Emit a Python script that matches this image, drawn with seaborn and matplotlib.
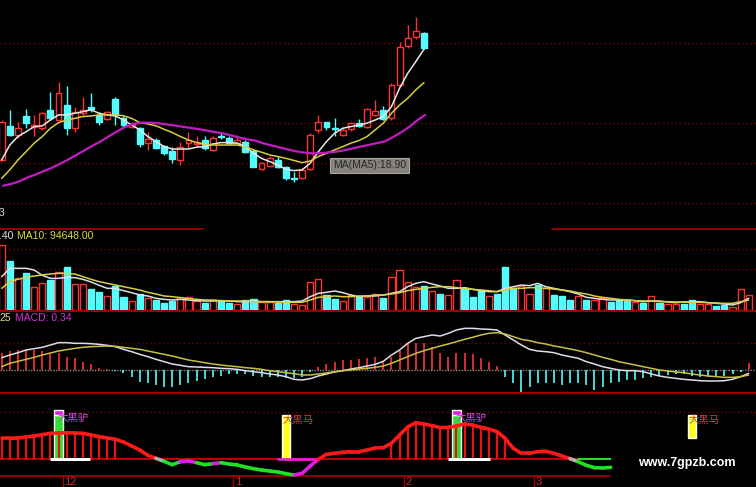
import numpy as np
import matplotlib
matplotlib.use("Agg")
import matplotlib.pyplot as plt
from matplotlib.collections import LineCollection
import seaborn as sns

# ------------------------------------------------------------
# data
# ------------------------------------------------------------
opens = [19.00, 20.28, 19.94, 20.66, 20.25, 20.19, 20.88, 20.50, 21.06, 20.19,
         20.75, 20.97, 20.69, 20.53, 21.28, 20.56, 20.23, 20.19, 19.63, 19.75,
         19.53, 19.35, 19.00, 19.63, 19.60, 19.73, 19.38, 19.89, 19.81, 19.63,
         19.69, 19.35, 18.66, 18.79, 19.00, 18.73, 18.32, 18.31, 18.65, 20.13,
         20.41, 20.19, 19.94, 20.15, 20.38, 20.25, 20.69, 20.88, 20.56, 21.81,
         23.28, 23.63, 23.78]
closes = [20.44, 19.94, 20.19, 20.40, 20.31, 20.75, 20.56, 21.50, 20.19, 20.81,
          20.88, 20.91, 20.44, 20.81, 20.69, 20.31, 20.35, 19.60, 19.78, 19.44,
          19.25, 19.03, 19.50, 19.75, 19.69, 19.44, 19.81, 19.87, 19.63, 19.75,
          19.31, 18.75, 18.88, 19.06, 18.75, 18.31, 18.30, 18.63, 19.94, 20.44,
          20.25, 20.15, 20.13, 20.38, 20.28, 20.90, 20.85, 20.53, 21.81, 23.25,
          23.56, 23.84, 23.19]
highs = [20.50, 20.88, 20.44, 20.90, 20.69, 20.81, 21.56, 21.94, 21.78, 21.00,
         21.38, 21.53, 20.81, 20.85, 21.38, 20.63, 20.44, 20.25, 20.06, 19.81,
         19.56, 19.50, 19.69, 20.06, 19.88, 19.88, 19.88, 20.06, 19.88, 19.94,
         19.75, 19.40, 18.94, 19.13, 19.13, 18.78, 18.56, 18.69, 20.00, 20.69,
         20.44, 20.56, 20.19, 20.44, 20.53, 20.94, 21.25, 21.03, 21.88, 23.44,
         24.06, 24.38, 23.81]
lows = [18.95, 19.88, 19.81, 20.19, 19.88, 20.13, 20.50, 20.48, 19.94, 20.06,
        20.69, 20.81, 20.31, 20.48, 20.31, 20.19, 20.19, 19.50, 19.38, 19.40,
        19.19, 18.88, 18.81, 19.44, 19.50, 19.38, 19.35, 19.78, 19.60, 19.59,
        19.25, 18.73, 18.63, 18.75, 18.69, 18.25, 18.19, 18.29, 18.63, 20.00,
        20.13, 19.88, 19.88, 20.10, 20.23, 20.19, 20.63, 20.48, 20.50, 21.75,
        23.19, 23.53, 23.15]

ma5 = [19.00, 19.56, 19.88, 20.06, 20.25, 20.28, 20.50, 20.69, 20.69, 20.75,
       20.81, 20.88, 20.75, 20.69, 20.65, 20.50, 20.31, 20.13, 19.88, 19.69,
       19.50, 19.41, 19.41, 19.41, 19.48, 19.50, 19.60, 19.65, 19.65, 19.63,
       19.50, 19.25, 19.06, 18.94, 18.81, 18.65, 18.60, 18.63, 18.88, 19.31,
       19.69, 20.00, 20.19, 20.25, 20.31, 20.38, 20.50, 20.63, 21.00, 21.69,
       22.25, 22.69, 23.15]
ma10 = [18.31, 18.63, 19.00, 19.31, 19.63, 19.88, 20.19, 20.40, 20.50, 20.56,
        20.63, 20.65, 20.69, 20.69, 20.69, 20.66, 20.56, 20.40, 20.35, 20.28,
        20.15, 20.03, 19.88, 19.75, 19.65, 19.59, 19.56, 19.56, 19.56, 19.56,
        19.50, 19.38, 19.29, 19.19, 19.13, 19.06, 18.98, 18.90, 18.96, 19.13,
        19.25, 19.38, 19.50, 19.63, 19.73, 19.88, 20.13, 20.38, 20.75, 21.06,
        21.31, 21.63, 21.90]
ma20 = [18.03, 18.10, 18.19, 18.34, 18.45, 18.58, 18.70, 18.85, 19.01, 19.18,
        19.35, 19.53, 19.69, 19.88, 20.06, 20.23, 20.35, 20.40, 20.40, 20.38,
        20.34, 20.30, 20.25, 20.21, 20.16, 20.11, 20.05, 20.00, 19.93, 19.85,
        19.78, 19.73, 19.63, 19.55, 19.48, 19.40, 19.33, 19.28, 19.25, 19.25,
        19.28, 19.31, 19.36, 19.43, 19.50, 19.56, 19.63, 19.69, 19.85, 20.03,
        20.23, 20.48, 20.69]

# volume (thousand lots), 1 = up day
volume = [390, 296, 190, 220, 140, 160, 180, 230, 260, 156,
          156, 124, 110, 84, 146, 76, 54, 96, 70, 60,
          44, 56, 76, 76, 54, 40, 60, 54, 40, 36,
          60, 66, 50, 50, 44, 60, 36, 30, 166, 184,
          90, 64, 54, 90, 76, 76, 96, 70, 196, 240,
          170, 140, 144, 114, 96, 90, 180, 130, 76, 120,
          84, 96, 260, 134, 144, 96, 150, 130, 90, 84,
          60, 84, 60, 60, 70, 50, 60, 54, 50, 44,
          84, 44, 36, 36, 36, 60, 36, 36, 24, 30,
          20, 124, 90]
vol_up = [1, 0, 1, 0, 1, 1, 0, 1, 0, 1, 1, 0, 0, 1, 0, 0, 1, 0, 1, 0,
          0, 0, 1, 1, 1, 0, 1, 0, 0, 1, 0, 0, 1, 1, 0, 0, 1, 1, 1, 1,
          0, 0, 1, 1, 0, 1, 1, 0, 1, 1, 1, 1, 0, 1, 0, 1, 1, 0, 0, 0,
          1, 0, 0, 0, 1, 1, 0, 1, 0, 0, 0, 1, 0, 1, 1, 0, 0, 0, 1, 0,
          1, 0, 1, 1, 0, 0, 1, 1, 0, 0, 1, 1, 1]
vol_ma5 = [200, 250, 250, 250, 240, 208, 190, 190, 196, 194,
           184, 168, 148, 130, 130, 116, 104, 90, 84, 70,
           64, 60, 64, 60, 56, 54, 54, 56, 54, 50,
           50, 54, 50, 50, 50, 50, 50, 54, 80, 100,
           106, 114, 104, 90, 80, 84, 84, 90, 100, 110,
           140, 160, 170, 156, 144, 130, 130, 134, 124, 116,
           110, 110, 130, 140, 150, 146, 160, 140, 130, 120,
           110, 96, 76, 70, 64, 60, 60, 60, 56, 50,
           54, 54, 48, 44, 48, 50, 50, 44, 40, 36,
           30, 44, 70]
vol_ma10 = [130, 170, 184, 196, 204, 210, 216, 220, 220, 216,
            200, 184, 170, 160, 150, 140, 130, 120, 106, 96,
            84, 80, 74, 68, 64, 60, 60, 56, 54, 54,
            54, 50, 50, 50, 48, 46, 46, 46, 60, 76,
            80, 84, 80, 80, 84, 84, 90, 90, 96, 104,
            116, 124, 130, 136, 140, 140, 134, 130, 124, 120,
            116, 110, 120, 130, 130, 134, 134, 130, 126, 120,
            114, 104, 96, 84, 76, 70, 64, 60, 56, 54,
            54, 50, 50, 48, 48, 46, 46, 44, 42, 40,
            40, 50, 60]

# MACD
dif = [0.37, 0.45, 0.52, 0.60, 0.64, 0.68, 0.75, 0.82, 0.82, 0.80,
       0.80, 0.79, 0.77, 0.74, 0.70, 0.62, 0.55, 0.47, 0.40, 0.32,
       0.25, 0.18, 0.14, 0.10, 0.09, 0.08, 0.07, 0.05, 0.04, 0.02,
       -0.02, -0.05, -0.08, -0.12, -0.15, -0.20, -0.28, -0.30, -0.26, -0.18,
       -0.12, -0.06, -0.02, 0.03, 0.07, 0.12, 0.17, 0.26, 0.45, 0.60,
       0.80, 0.95, 1.00, 1.05, 1.02, 1.10, 1.20, 1.25, 1.25, 1.23,
       1.22, 1.20, 1.05, 0.90, 0.75, 0.62, 0.57, 0.55, 0.52, 0.45,
       0.40, 0.35, 0.25, 0.18, 0.10, 0.05, 0.00, -0.02, -0.02, -0.05,
       -0.12, -0.18, -0.22, -0.25, -0.28, -0.30, -0.32, -0.33, -0.33, -0.32,
       -0.28, -0.20, -0.10]
dea = [0.10, 0.20, 0.26, 0.32, 0.38, 0.45, 0.51, 0.57, 0.61, 0.65,
       0.68, 0.70, 0.71, 0.72, 0.71, 0.68, 0.65, 0.62, 0.57, 0.52,
       0.47, 0.42, 0.36, 0.30, 0.26, 0.22, 0.18, 0.15, 0.12, 0.10,
       0.07, 0.05, 0.02, -0.02, -0.05, -0.08, -0.11, -0.15, -0.15, -0.12,
       -0.09, -0.05, -0.02, 0.00, 0.03, 0.05, 0.08, 0.12, 0.20, 0.30,
       0.40, 0.50, 0.58, 0.65, 0.72, 0.78, 0.85, 0.92, 0.98, 1.05,
       1.10, 1.12, 1.08, 1.00, 0.92, 0.88, 0.82, 0.78, 0.72, 0.68,
       0.63, 0.58, 0.52, 0.45, 0.38, 0.32, 0.25, 0.20, 0.15, 0.10,
       0.05, 0.00, -0.03, -0.06, -0.08, -0.12, -0.15, -0.18, -0.20, -0.22,
       -0.22, -0.20, -0.15]
macd_hist = [0.52, 0.58, 0.60, 0.60, 0.60, 0.57, 0.52, 0.50, 0.40, 0.35,
             0.25, 0.18, 0.05, 0.02, -0.02, -0.10, -0.20, -0.35, -0.40, -0.45,
             -0.50, -0.50, -0.45, -0.40, -0.32, -0.28, -0.22, -0.18, -0.12, -0.12,
             -0.12, -0.18, -0.22, -0.20, -0.22, -0.25, -0.25, -0.20, -0.05, 0.10,
             0.18, 0.25, 0.30, 0.30, 0.32, 0.35, 0.38, 0.25, 0.40, 0.58,
             0.78, 0.82, 0.80, 0.68, 0.52, 0.40, 0.50, 0.52, 0.47, 0.35,
             0.25, 0.12, -0.22, -0.40, -0.65, -0.50, -0.40, -0.40, -0.40, -0.45,
             -0.40, -0.40, -0.45, -0.60, -0.50, -0.40, -0.35, -0.30, -0.30, -0.25,
             -0.22, -0.18, -0.15, -0.13, -0.12, -0.18, -0.20, -0.22, -0.20, -0.18,
             -0.12, -0.05, 0.20]

# signal indicator (bottom panel)
signal = [31.5, 31.5, 32, 33.5, 35, 37, 39, 39.5, 40, 39.5,
          39, 36.5, 34, 32, 30, 26, 20, 14, 6, 1.5,
          -3, -8, -3.5, -2.5, -5, -8, -6.5, -5, -7, -8.5,
          -11.5, -14, -16, -17.5, -19, -21.5, -23.5, -21, -10, 0,
          7.5, 9, 10.5, 11.5, 11.5, 14, 17, 17.5, 24, 36.5,
          48.5, 55, 53, 50.5, 47.5, 48, 50, 53, 51.5, 48,
          45.5, 41.5, 31.5, 16.5, 9, 9, 11.5, 12, 9, 5,
          1, -3.5, -9, -12.5, -13, -12]
hatch_ranges = [(0, 14), (48, 62)]
magenta_segments = [22, 23, 26, 36, 37, 38]
gray_segments = [19, 70]

donkey_idx = [7, 56]          # 大黑驴
donkey_top = [74, 74]
horse_idx = [35, 85]          # 大黑马
horse_bottom = [0, 32]
horse_top = [66.5, 66.5]

month_labels = ["12", "1", "2", "3"]
month_pos = [8, 29, 50, 66]   # bar index where month starts

# ------------------------------------------------------------
# figure
# ------------------------------------------------------------
sns.set_style("dark")
plt.rcParams['font.family'] = ['Liberation Sans', 'Noto Sans CJK SC', 'DejaVu Sans']

W, H = 756, 487
fig = plt.figure(figsize=(W / 100, H / 100), dpi=100, facecolor="black")

RED = "#ff3232"
CYAN = "#54fcfc"
DRED = "#a00000"
DOT = "#7a0000"

# pixel helper axes for frame lines
bg = fig.add_axes([0, 0, 1, 1])
bg.set_xlim(0, W)
bg.set_ylim(H, 0)
bg.axis("off")
bg.set_facecolor("black")

for yy in [43, 123, 163, 203, 249, 269, 343, 412]:
    bg.plot([0, W], [yy, yy], color=DOT, lw=1, ls=(0, (1, 2)))
bg.plot([0, 203], [229, 229], color=DRED, lw=1.3)
bg.plot([552, W], [229, 229], color=DRED, lw=1.3)
bg.plot([0, W], [310.5, 310.5], color=DRED, lw=1.3)
bg.plot([0, W], [393, 393], color=DRED, lw=1.6)
bg.plot([0, W], [370, 370], color="#8a8a8a", lw=1, ls=(0, (1, 1)))
bg.plot([0, 610], [476, 476], color=DRED, lw=1.3)

XL = (-1.7 / 8.12, (W - 1.7) / 8.12)


def panel(y0, y1):
    ax = fig.add_axes([0, 1 - y1 / H, 1, (y1 - y0) / H])
    ax.set_facecolor("none")
    ax.set_xlim(*XL)
    ax.axis("off")
    return ax


# ---------------- price panel ----------------
ax1 = panel(0, 229)
ax1.set_ylim(16.41, 25)
n = len(opens)
xi = np.arange(n)
up = np.array(closes) >= np.array(opens)
ccol = [RED if u else CYAN for u in up]
ax1.vlines(xi, lows, highs, colors=ccol, lw=1, zorder=2)
bottoms = np.minimum(opens, closes)
heights = np.maximum(np.abs(np.array(closes) - np.array(opens)), 0.02)
ax1.bar(xi, heights, bottom=bottoms, width=0.72,
        facecolor=["black" if u else CYAN for u in up],
        edgecolor=ccol, lw=1, zorder=3)
sns.lineplot(x=xi, y=ma5, ax=ax1, color="#e8e8e8", lw=1.1, zorder=4, legend=False)
sns.lineplot(x=xi, y=ma10, ax=ax1, color="#d8cc40", lw=1.1, zorder=4, legend=False)
sns.lineplot(x=np.arange(len(ma20)) + 0.15, y=ma20, ax=ax1, color="#c21cc2", lw=1.6,
             zorder=4, legend=False)
ax1.axis("off")

# ---------------- volume panel ----------------
ax2 = panel(229, 310)
ax2.set_ylim(0, 486)
vx = np.arange(len(volume))
vcol = [RED if u else CYAN for u in vol_up]
ax2.bar(vx, volume, width=0.76, facecolor=["black" if u else CYAN for u in vol_up],
        edgecolor=vcol, lw=1)
sns.lineplot(x=vx, y=vol_ma5, ax=ax2, color="#e0e0e0", lw=1.1, legend=False)
sns.lineplot(x=vx, y=vol_ma10, ax=ax2, color="#d8d040", lw=1.1, legend=False)
ax2.axis("off")

# ---------------- MACD panel ----------------
ax3 = panel(310, 393)
ax3.set_ylim(-0.69, 1.8)
mx = np.arange(len(macd_hist))
ax3.vlines(mx, 0, macd_hist, colors=[RED if v > 0 else CYAN for v in macd_hist], lw=1.2)
sns.lineplot(x=mx, y=dif, ax=ax3, color="#dcdcec", lw=1.1, legend=False)
sns.lineplot(x=mx, y=dea, ax=ax3, color="#c8c040", lw=1.1, legend=False)
ax3.axis("off")

# ---------------- signal panel ----------------
ax4 = panel(393, 487)
ax4.set_ylim(-41.5, 99.5)
sx = np.arange(len(signal))
ax4.hlines(0, XL[0], 71, color="#d00000", lw=1.3)
ax4.hlines(0, 71, 75, color="#20e020", lw=1.5)
ax4.hlines(0, 33.9, 39.0, color="#e020e0", lw=2, zorder=3)
ax4.hlines(0, 5.9, 10.9, color="white", lw=2.2, zorder=5)
ax4.hlines(0, 55.0, 60.1, color="white", lw=2.2, zorder=5)

# signal boxes
for i, top in zip(donkey_idx, donkey_top):
    ax4.bar(i, top - 7.5, width=1.2, color="#30e030", zorder=2)
    ax4.bar(i, 7.5, bottom=top - 7.5, width=1.2, color="#e020e0", zorder=2)
for i, b, t in zip(horse_idx, horse_bottom, horse_top):
    ax4.bar(i, t - b, bottom=b, width=1.0, color="#ffff20", zorder=2)

for a, b in hatch_ranges:
    hx = np.arange(a, b + 1)
    ax4.vlines(hx, 0, [signal[k] for k in hx], colors="#e81010", lw=1.6, zorder=3)

pts = np.column_stack([sx, signal])
segs = np.stack([pts[:-1], pts[1:]], axis=1)
seg_cols = []
for k in range(len(segs)):
    if k in magenta_segments:
        seg_cols.append("#e020e0")
    elif k in gray_segments:
        seg_cols.append("#b0b0b0")
    elif signal[k] + signal[k + 1] > 0:
        seg_cols.append("#ff1a1a")
    else:
        seg_cols.append("#22e022")
ax4.add_collection(LineCollection(segs, colors=seg_cols, lw=2.6, zorder=4,
                                  capstyle="round"))
ax4.axis("off")

# ---------------- texts ----------------
def ft(x, y, s, **kw):
    fig.text(x / W, 1 - y / H, s, va="center", ha="left", **kw)


ft(-1, 213, "3", color="#e0e0e0", fontsize=7.5)
ft(-1, 236, ".40", color="#e0e0e0", fontsize=7.5)
ft(17, 236, "MA10: 94648.00", color="#d8d84a", fontsize=7.5)
ft(-1, 318, "25", color="#e8dca0", fontsize=7.5)
ft(15, 318, "MACD: 0.34", color="#d830d8", fontsize=7.5)

ft(333, 165.5, "MA(MA5):18.90", color="#262626", fontsize=7.5,
   bbox=dict(boxstyle="square,pad=0.25", facecolor="#84827a", edgecolor="#a8a69c", lw=0.8))

for i in donkey_idx:
    ax4.text(i - 0.1, 62, "大黑驴", color="#e040e0", fontsize=7.5, va="center", ha="left",
             zorder=6)
for i in horse_idx:
    ax4.text(i - 0.35, 60, "大黑马", color="#e83048", fontsize=7.5, va="center", ha="left",
             zorder=6)

for lab, p in zip(month_labels, month_pos):
    px = 1.7 + 8.12 * p - 4
    bg.plot([px, px], [476, 487], color=DRED, lw=1)
    ft(px + 1.5, 482, lab, color="#c83030", fontsize=8)

ft(638, 463, "www.7gpzb.com", color="white", fontsize=9, fontweight="bold")

fig.savefig("out.png", dpi=100, facecolor="black")
